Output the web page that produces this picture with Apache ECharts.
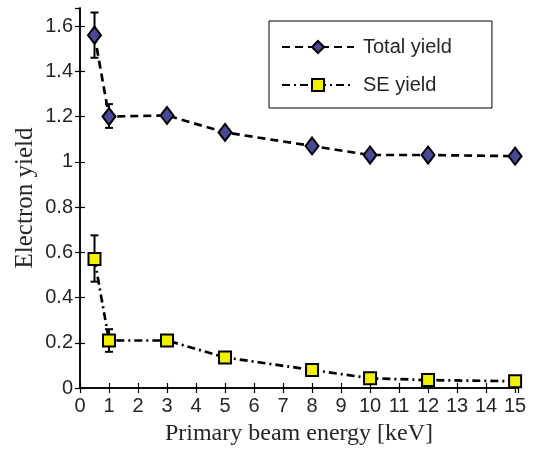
<!DOCTYPE html>
<html>
<head>
<meta charset="utf-8">
<script src="https://cdn.jsdelivr.net/npm/echarts@6/dist/echarts.min.js"></script>
<style>
  html, body { margin: 0; padding: 0; background: #fff; }
  #main { width: 534px; height: 454px; }
</style>
</head>
<body>
<div id="main"></div>
<script>
// beam energies (keV)
var energies = [0.5, 1, 3, 5, 8, 10, 12, 15];
var totalYield = [1.56, 1.20, 1.205, 1.13, 1.07, 1.03, 1.03, 1.025];
var seYield = [0.57, 0.21, 0.21, 0.135, 0.08, 0.043, 0.035, 0.03];
// error bars: [energy, low, high]
var totalErr = [[0.5, 1.46, 1.66], [1, 1.15, 1.255]];
var seErr = [[0.5, 0.47, 0.675], [1, 0.16, 0.26]];

var xTicks = [0, 1, 2, 3, 4, 5, 6, 7, 8, 9, 10, 11, 12, 13, 14, 15];
var yTicks = [0, 0.2, 0.4, 0.6, 0.8, 1, 1.2, 1.4, 1.6];

function pairs(xs, ys) {
  return xs.map(function (x, i) { return [x, ys[i]]; });
}

function renderErr(params, api) {
  var top = api.coord([api.value(0), api.value(2)]);
  var bot = api.coord([api.value(0), api.value(1)]);
  var hw = 4;
  var st = { stroke: '#000', lineWidth: 2 };
  return {
    type: 'group',
    children: [
      { type: 'line', shape: { x1: top[0], y1: top[1], x2: bot[0], y2: bot[1] }, style: st },
      { type: 'line', shape: { x1: top[0] - hw, y1: top[1], x2: top[0] + hw, y2: top[1] }, style: st },
      { type: 'line', shape: { x1: bot[0] - hw, y1: bot[1], x2: bot[0] + hw, y2: bot[1] }, style: st }
    ]
  };
}

var chart = echarts.init(document.getElementById('main'));

var axisLine = { show: true, lineStyle: { color: '#000', width: 1.5 } };
var tick = { show: true, inside: true, length: 5, lineStyle: { color: '#000', width: 1.2 } };
var lblFont = { fontFamily: 'Liberation Sans', fontSize: 20, color: '#262626' };

chart.setOption({
  backgroundColor: '#fff',
  animation: false,
  grid: { left: 80, right: 16, top: 8, bottom: 66 },
  legend: {
    orient: 'vertical',
    left: 269,
    top: 21,
    padding: [16, 40, 13, 12],
    borderColor: '#000',
    borderWidth: 1,
    itemWidth: 72,
    itemHeight: 15,
    itemGap: 18,
    textStyle: { fontFamily: 'Liberation Sans', fontSize: 20, color: '#262626', lineHeight: 20, padding: [0, 0, 0, 4] },
    data: ['Total yield', 'SE yield']
  },
  xAxis: [{
    type: 'value', min: 0, max: 15.1, interval: 1,
    name: 'Primary beam energy [keV]',
    nameLocation: 'middle', nameGap: 34, nameMoveOverlap: false,
    nameTextStyle: { fontFamily: 'Liberation Serif', fontSize: 24, color: '#262626' },
    axisLine: axisLine, axisTick: tick, splitLine: { show: false },
    axisLabel: Object.assign({ margin: 8, showMaxLabel: false,
      formatter: function (v) { return xTicks.indexOf(v) >= 0 ? String(v) : ''; } }, lblFont)
  }, {
    type: 'value', min: 0, max: 15.1, interval: 1, position: 'top',
    axisLine: axisLine, axisTick: tick, axisLabel: { show: false }, splitLine: { show: false }
  }],
  yAxis: [{
    type: 'value', min: 0, max: 1.68, interval: 0.2,
    name: 'Electron yield',
    nameLocation: 'middle', nameGap: 42, nameMoveOverlap: false,
    nameTextStyle: { fontFamily: 'Liberation Serif', fontSize: 25, color: '#262626' },
    axisLine: axisLine, axisTick: tick, splitLine: { show: false },
    axisLabel: Object.assign({ margin: 7, showMaxLabel: false,
      formatter: function (v) {
        var r = Math.round(v * 10) / 10;
        return yTicks.indexOf(r) >= 0 && Math.abs(r - v) < 1e-6 ? String(r) : '';
      } }, lblFont)
  }, {
    type: 'value', min: 0, max: 1.68, interval: 0.2, position: 'right',
    axisLine: axisLine, axisTick: tick, axisLabel: { show: false }, splitLine: { show: false }
  }],
  series: [{
    type: 'custom', name: 'totalErr', renderItem: renderErr, data: totalErr, z: 1,
    encode: { x: 0, y: [1, 2] }
  }, {
    type: 'custom', name: 'seErr', renderItem: renderErr, data: seErr, z: 1,
    encode: { x: 0, y: [1, 2] }
  }, {
    type: 'line', name: 'Total yield', data: pairs(energies, totalYield), z: 3,
    symbol: 'diamond', symbolSize: [13, 17],
    lineStyle: { color: '#000', width: 2.7, type: [8, 5] },
    itemStyle: { color: '#4b4896', borderColor: '#000', borderWidth: 2 }
  }, {
    type: 'line', name: 'SE yield', data: pairs(energies, seYield), z: 3,
    symbol: 'rect', symbolSize: 12,
    lineStyle: { color: '#000', width: 2.7, type: [8, 4, 2, 4] },
    itemStyle: { color: '#f0f000', borderColor: '#000', borderWidth: 2 }
  }]
});
</script>
</body>
</html>
